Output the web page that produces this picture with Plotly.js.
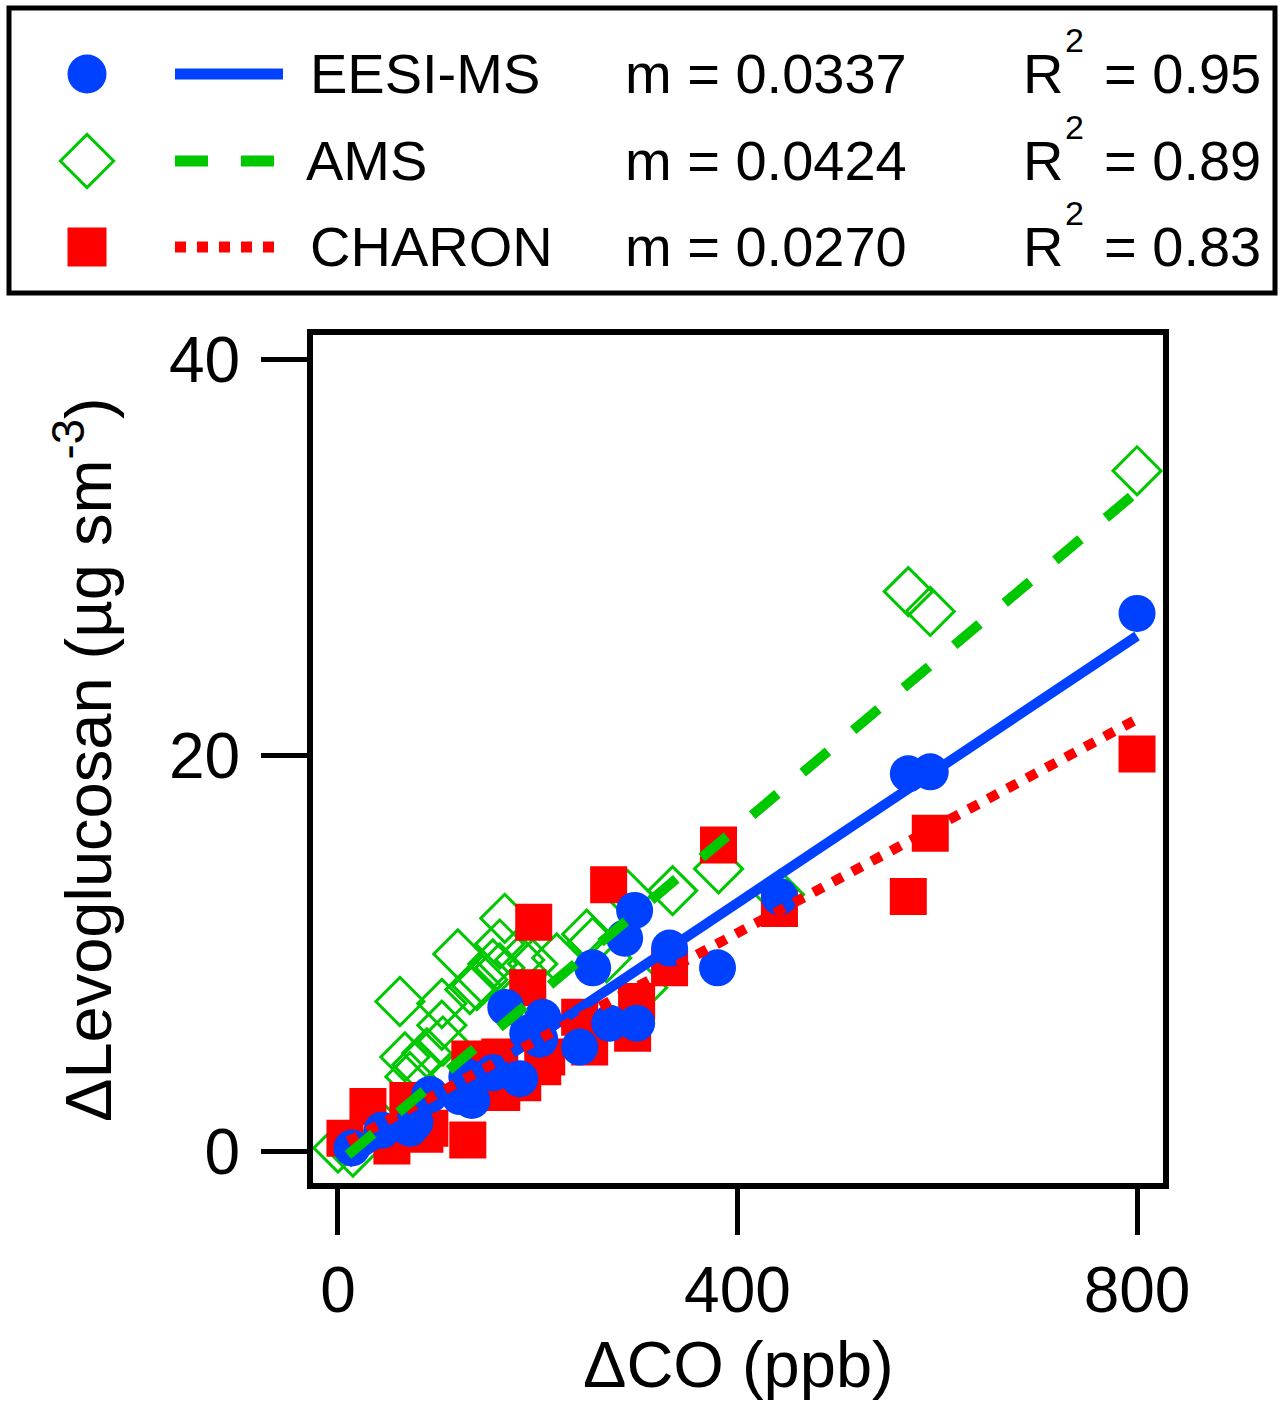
<!DOCTYPE html>
<html>
<head>
<meta charset="utf-8">
<script src="https://cdn.plot.ly/plotly-3.0.1.min.js"></script>
<style>
  html, body { margin: 0; padding: 0; background: #fff; }
  #chart { width: 1284px; height: 1406px; }
</style>
</head>
<body>
<div id="chart"></div>
<script>
// series (ΔCO in ppb, Δlevoglucosan in µg sm-3)
const eesiX = [14, 44, 72, 77, 92, 122, 129, 134, 155, 182, 190, 202, 205, 168, 242, 272, 299, 255, 287, 297, 332, 380, 442, 571, 593, 800];
const eesiY = [0.2, 1.1, 1.2, 1.5, 2.9, 2.8, 3.8, 2.6, 4.0, 3.7, 6.0, 5.7, 6.8, 7.3, 5.3, 6.5, 6.5, 9.3, 10.8, 12.2, 10.3, 9.3, 12.9, 19.1, 19.2, 27.2];

const amsX = [0, 15, 40, 62, 67, 72, 79, 89, 104, 104, 105, 120, 132, 139, 145, 155, 162, 162, 167, 182, 195, 219, 249, 255, 269, 290, 305, 335, 381, 442, 571, 593, 800];
const amsY = [0.2, 0.0, 1.5, 7.6, 4.8, 3.8, 4.4, 5.0, 7.5, 6.4, 5.6, 10.0, 8.2, 8.4, 8.7, 9.5, 9.3, 10.5, 11.8, 9.7, 9.5, 9.8, 11.0, 10.6, 9.8, 13.0, 8.3, 13.2, 14.3, 13.0, 28.3, 27.3, 34.4];

const charonX = [7, 30, 54, 70, 87, 92, 130, 132, 145, 155, 162, 164, 185, 205, 209, 190, 196, 242, 252, 271, 295, 299, 332, 381, 442, 571, 593, 800];
const charonY = [0.7, 2.3, 0.3, 2.6, 0.9, 1.2, 0.6, 4.7, 3.0, 4.6, 4.8, 3.0, 3.5, 4.3, 4.8, 8.3, 11.6, 6.8, 5.3, 13.5, 6.0, 7.6, 9.3, 15.5, 12.3, 12.9, 16.1, 20.1];

const seriesNames = ['EESI-MS', 'AMS', 'CHARON'];
const slopes = [0.0337, 0.0424, 0.0270];
const intercepts = [-0.9, -0.57, 0.26];
const r2 = ['0.95', '0.89', '0.83'];
const fitRange = [10, 800];

const xTicks = [0, 400, 800];
const yTicks = [0, 20, 40];

const BLUE = '#0040ff', GREEN = '#00c800', RED = '#ff0000';
const FONT = 'Liberation Sans, Arial, sans-serif';

// figure is laid out in pixels; helper for paper fractions
const W = 1284, H = 1406;
const px = v => v / W, py = v => 1 - v / H;

function fitLine(i) {
  return fitRange.map(x => slopes[i] * x + intercepts[i]);
}

const markerTraces = [
  { x: amsX, y: amsY, type: 'scatter', mode: 'markers',
    marker: { symbol: 'diamond-open', size: 37, opacity: 1, color: GREEN, line: { width: 3, color: GREEN } } },
  { x: charonX, y: charonY, type: 'scatter', mode: 'markers',
    marker: { symbol: 'square', size: 37, opacity: 1, color: RED, line: { width: 0 } } },
  { x: eesiX, y: eesiY, type: 'scatter', mode: 'markers',
    marker: { symbol: 'circle', size: 37, opacity: 1, color: BLUE, line: { width: 0 } } },
];

const lineTraces = [
  { x: fitRange, y: fitLine(0), type: 'scatter', mode: 'lines',
    line: { color: BLUE, width: 10 } },
  { x: fitRange, y: fitLine(2), type: 'scatter', mode: 'lines',
    line: { color: RED, width: 10, dash: '11px,11px' } },
  { x: fitRange, y: fitLine(1), type: 'scatter', mode: 'lines',
    line: { color: GREEN, width: 10, dash: '33px,33px' } },
];

// legend box lives on a hidden pixel-unit axis pair covering the whole figure
const rowY = [74, 161, 247];
const legendMarkers = {
  x: [87, 87, 87], y: rowY, xaxis: 'x2', yaxis: 'y2',
  type: 'scatter', mode: 'markers',
  marker: {
    symbol: ['circle', 'diamond-open', 'square'], size: [39, 41, 39], opacity: 1,
    color: [BLUE, GREEN, RED], line: { width: [0, 3, 0], color: [BLUE, GREEN, RED] }
  }
};

const shapes = [
  { type: 'rect', xref: 'x2', yref: 'y2', x0: 9, x1: 1275, y0: 8, y1: 293,
    line: { color: '#000', width: 5 } },
  { type: 'line', xref: 'x2', yref: 'y2', x0: 175, x1: 283, y0: rowY[0], y1: rowY[0],
    line: { color: BLUE, width: 11 } },
  { type: 'line', xref: 'x2', yref: 'y2', x0: 175, x1: 275, y0: rowY[1], y1: rowY[1],
    line: { color: GREEN, width: 11, dash: '33px,33px' } },
  { type: 'line', xref: 'x2', yref: 'y2', x0: 175, x1: 275, y0: rowY[2], y1: rowY[2],
    line: { color: RED, width: 11, dash: '11px,11px' } },
];

const legFont = { family: FONT, size: 56, color: '#000' };
const annotations = [];
seriesNames.forEach((name, i) => {
  const yc = rowY[i] - 1;
  annotations.push({ xref: 'x2', yref: 'y2', x: name === 'AMS' ? 304 : 308, y: yc,
    xanchor: 'left', yanchor: 'middle', showarrow: false, text: name, font: legFont });
  annotations.push({ xref: 'x2', yref: 'y2', x: 623, y: yc,
    xanchor: 'left', yanchor: 'middle', showarrow: false,
    text: 'm = ' + slopes[i].toFixed(4), font: legFont });
  annotations.push({ xref: 'x2', yref: 'y2', x: 1021, y: yc,
    xanchor: 'left', yanchor: 'middle', showarrow: false, text: 'R', font: legFont });
  annotations.push({ xref: 'x2', yref: 'y2', x: 1063, y: rowY[i] - 34,
    xanchor: 'left', yanchor: 'middle', showarrow: false, text: '2',
    font: { family: FONT, size: 34, color: '#000' } });
  annotations.push({ xref: 'x2', yref: 'y2', x: 1102, y: yc,
    xanchor: 'left', yanchor: 'middle', showarrow: false,
    text: '= ' + r2[i], font: legFont });
});
// axis titles
annotations.push({ xref: 'x2', yref: 'y2', x: 738, y: 1364, xanchor: 'center', yanchor: 'middle',
  showarrow: false, text: 'ΔCO (ppb)', font: { family: FONT, size: 65, color: '#000' } });
annotations.push({ xref: 'x2', yref: 'y2', x: 84, y: 760, xanchor: 'center', yanchor: 'middle',
  showarrow: false, textangle: -90, text: 'ΔLevoglucosan (µg sm<sup>-3</sup>)',
  font: { family: FONT, size: 65, color: '#000' } });

const axisCommon = {
  showgrid: false, zeroline: false, showline: true, mirror: true,
  linecolor: '#000', linewidth: 6,
  ticks: 'outside', ticklen: 46, tickwidth: 5, tickcolor: '#000',
  tickfont: { family: FONT, size: 64, color: '#000' },
  tickmode: 'array', fixedrange: true,
};

const layout = {
  width: W, height: H,
  margin: { l: 0, r: 0, t: 0, b: 0, pad: 0 },
  paper_bgcolor: '#fff',
  plot_bgcolor: 'rgba(0,0,0,0)',
  showlegend: false,
  xaxis: Object.assign({}, axisCommon, {
    domain: [px(313), px(1163)], range: [-25.0, 826.0],
    tickvals: xTicks, ticktext: xTicks.map(String), ticklabelstandoff: 0,
    anchor: 'y', automargin: false,
  }),
  yaxis: Object.assign({}, axisCommon, {
    domain: [py(1183), py(335)], range: [-1.566, 41.26],
    tickvals: yTicks, ticktext: yTicks.map(String), ticklabelstandoff: 8,
    anchor: 'x', automargin: false,
  }),
  xaxis2: { domain: [0, 1], range: [0, W], visible: false, anchor: 'y2', fixedrange: true },
  yaxis2: { domain: [0, 1], range: [H, 0], visible: false, anchor: 'x2', fixedrange: true },
  shapes, annotations,
};

Plotly.newPlot('chart', [...markerTraces, ...lineTraces, legendMarkers], layout,
  { displayModeBar: false, staticPlot: true });
</script>
</body>
</html>
